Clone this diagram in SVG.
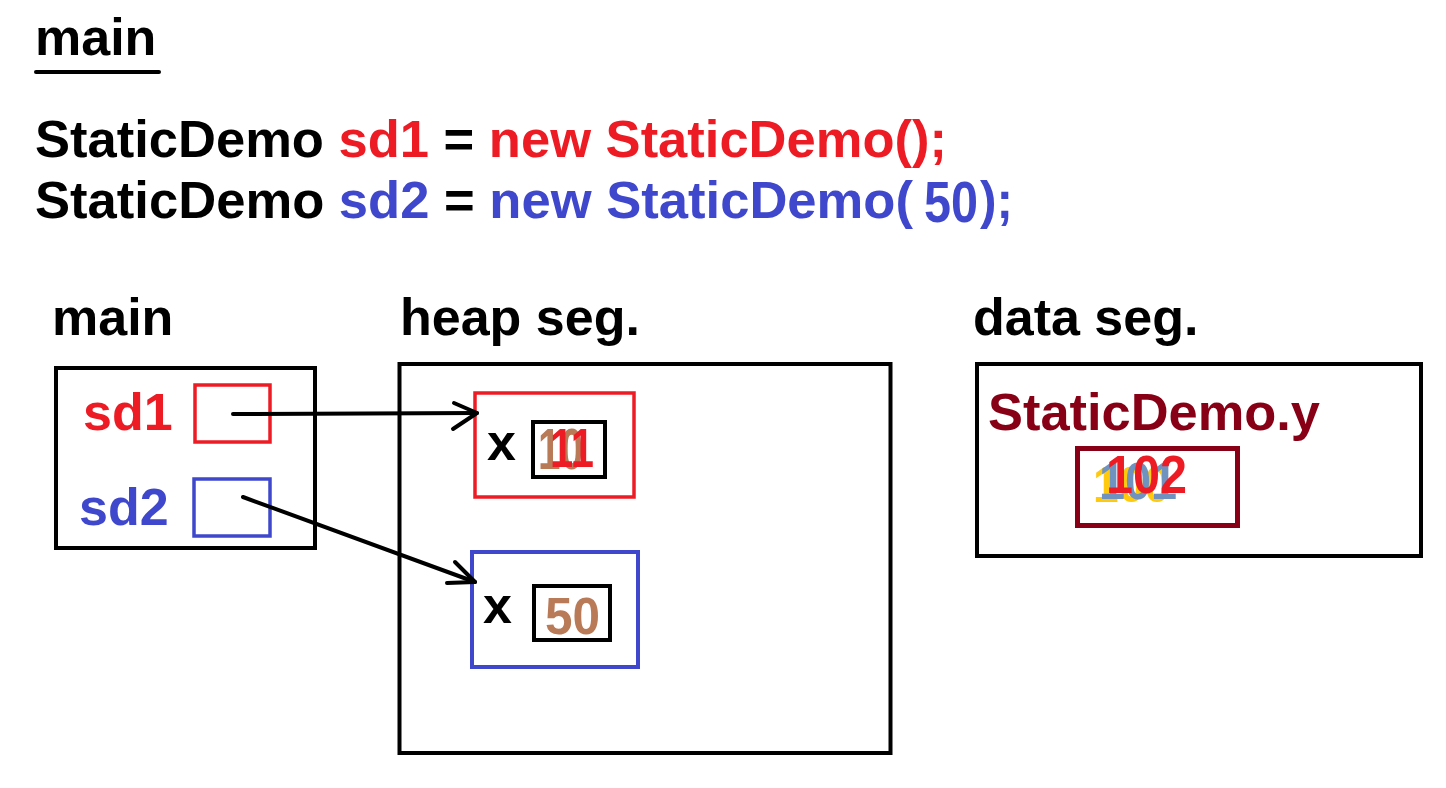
<svg xmlns="http://www.w3.org/2000/svg" width="1446" height="788" viewBox="0 0 1446 788">
<style>
text{font-family:"Liberation Sans",Arial,sans-serif;font-weight:bold;font-size:52px}
.k{fill:#000}
.r{fill:#ED1C24}
.b{fill:#3F48CC}
.br{fill:#B97A57}
.dr{fill:#880015}
.ye{fill:#FFC90E}
.gb{fill:#7092BE}
.box{fill:none;stroke-width:4}
.conn{fill:none;stroke:#000;stroke-width:4;stroke-linecap:round;stroke-linejoin:round}
</style>
<rect width="1446" height="788" fill="#fff"/>
<g id="code">
<text x="35" y="55" class="k">main</text>
<line x1="36" y1="72" x2="159" y2="72" stroke="#000" stroke-width="4" stroke-linecap="round"/>
<text x="35" y="157" textLength="912" lengthAdjust="spacingAndGlyphs"><tspan class="k">StaticDemo </tspan><tspan class="r">sd1</tspan><tspan class="k"> = </tspan><tspan class="r">new StaticDemo();</tspan></text>
<text x="35" y="218" textLength="878" lengthAdjust="spacingAndGlyphs"><tspan class="k">StaticDemo </tspan><tspan class="b">sd2</tspan><tspan class="k"> = </tspan><tspan class="b">new StaticDemo(</tspan></text>
<text x="924" y="222" class="b" style="font-size:57px" textLength="54" lengthAdjust="spacingAndGlyphs">50</text>
<text x="980" y="218" class="b" textLength="33" lengthAdjust="spacingAndGlyphs">);</text>
</g>
<g id="labels">
<text x="52" y="335" class="k">main</text>
<text x="400" y="335" class="k">heap seg.</text>
<text x="973" y="335" class="k">data seg.</text>
</g>
<g id="main-frame">
<rect x="56" y="368" width="259" height="180" class="box" stroke="#000"/>
<text x="83" y="430" class="r">sd1</text>
<rect x="195" y="385" width="75" height="57" class="box" stroke="#ED1C24" style="stroke-width:3.5"/>
<text x="79" y="525" class="b">sd2</text>
<rect x="194" y="479" width="76" height="57" class="box" stroke="#3F48CC" style="stroke-width:3.5"/>
</g>
<g id="heap">
<rect x="399.5" y="364" width="491" height="389" class="box" stroke="#000"/>
</g>
<g id="obj1">
<rect x="475" y="393" width="159" height="104" class="box" stroke="#ED1C24" style="stroke-width:3.5"/>
<text x="487" y="460" class="k">x</text>
<rect x="533" y="422" width="72" height="55" class="box" stroke="#000"/>
<text x="538" y="469" class="br" style="font-size:58px" textLength="45" lengthAdjust="spacingAndGlyphs">10</text>
<text x="550" y="467" class="r" style="font-size:56px" textLength="44" lengthAdjust="spacingAndGlyphs">11</text>
</g>
<g id="obj2">
<rect x="472" y="552" width="166" height="115" class="box" stroke="#3F48CC"/>
<text x="483" y="623" class="k">x</text>
<rect x="534" y="586" width="76" height="54" class="box" stroke="#000"/>
<text x="545" y="634" class="br" textLength="55" lengthAdjust="spacingAndGlyphs">50</text>
</g>
<g id="data">
<rect x="977" y="364" width="444" height="192" class="box" stroke="#000"/>
<text x="988" y="430" class="dr" textLength="332" lengthAdjust="spacingAndGlyphs">StaticDemo.y</text>
<rect x="1077.5" y="448.5" width="160" height="77" class="box" stroke="#880015" style="stroke-width:5"/>
<text x="1093" y="502" class="ye" style="font-size:50px" textLength="77" lengthAdjust="spacingAndGlyphs">100</text>
<text x="1099" y="499" class="gb" style="font-size:52px" textLength="78" lengthAdjust="spacingAndGlyphs">101</text>
<text x="1106" y="493" class="r" style="font-size:54px" textLength="81" lengthAdjust="spacingAndGlyphs">102</text>
</g>
<g id="connectors">
<line x1="233" y1="414" x2="477" y2="413" class="conn"/>
<polyline points="454,403 477,413 453,429" class="conn"/>
<line x1="243" y1="497" x2="475" y2="582" class="conn"/>
<polyline points="455,562 475,582 447,583" class="conn"/>
</g>
</svg>
